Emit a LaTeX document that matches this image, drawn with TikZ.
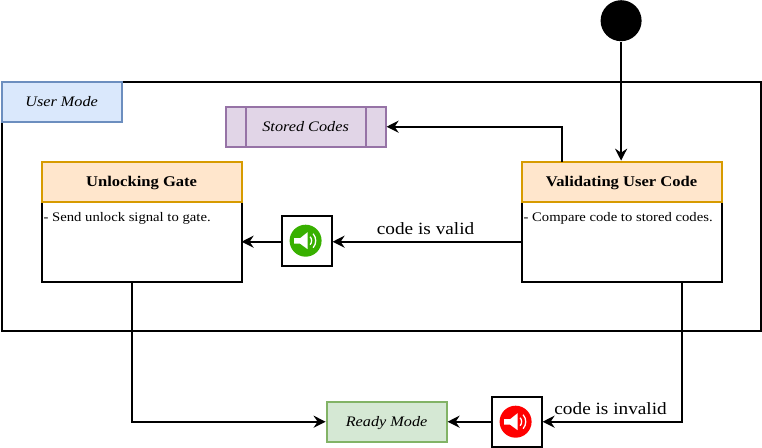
\documentclass[tikz,border=0pt]{standalone}
\usepackage{fontspec}
\setmainfont[FakeStretch=1.12]{Liberation Serif}
\usetikzlibrary{arrows.meta}
\definecolor{modeblue}{HTML}{DAE8FC}
\definecolor{modebluedark}{HTML}{6C8EBF}
\definecolor{storepurple}{HTML}{E1D5E7}
\definecolor{storepurpledark}{HTML}{9673A6}
\definecolor{headorange}{HTML}{FFE6CC}
\definecolor{headorangedark}{HTML}{D79B00}
\definecolor{readygreen}{HTML}{D5E8D4}
\definecolor{readygreendark}{HTML}{82B366}
\definecolor{okgreen}{HTML}{38B000}
\begin{document}
\begin{tikzpicture}[x=1pt, y=-1pt, line width=2pt, >={Stealth[length=12pt,width=12pt,inset=4pt]}]
\tikzstyle{every node}=[inner sep=0pt, font=\fontsize{13.1}{15}\selectfont];
\tikzstyle{head}=[draw=headorangedark, fill=headorange, minimum width=200pt, minimum height=40pt, text height=10pt, text depth=0pt, font=\fontsize{14.8}{17}\selectfont\bfseries];
\tikzstyle{body}=[draw=black, minimum width=200pt, minimum height=80pt];
\tikzstyle{mode}=[minimum width=120pt, minimum height=40pt, text height=9.5pt, text depth=0pt, font=\fontsize{14.5}{17}\selectfont\itshape];
\tikzstyle{beep}=[draw=black, minimum width=50pt, minimum height=50pt];
\tikzstyle{lbl}=[font=\fontsize{17.2}{20}\selectfont];
\useasboundingbox (0.4,0.3) rectangle (762.4,447.3);
\draw (2,82) rectangle (761,331);
\node[mode, draw=modebluedark, fill=modeblue] (user) at (62,102) {User Mode};
\node[mode, draw=storepurpledark, fill=storepurple, minimum width=160pt] (stored) at (306,127) {Stored Codes};
\draw[storepurpledark] (246,107) -- (246,147) (366,107) -- (366,147);
\node[mode, draw=readygreendark, fill=readygreen] (ready) at (387,422) {Ready Mode};
\node[circle, fill=black, minimum size=41pt] (start) at (621.5,21) {};
\node[body] (gatebody) at (142,242) {};
\node[body] (validbody) at (622,242) {};
\node[head] (gate) at (142,182) {Unlocking Gate};
\node[head] (valid) at (622,182) {Validating User Code};
\node[anchor=north west] (gatetext) at (43,211.5) {- Send unlock signal to gate.};
\node[anchor=north west] (validtext) at (523,211.5) {- Compare code to stored codes.};
\foreach \n/\c/\x/\y in {okbeep/okgreen/307/241, badbeep/red/517/422}
{
\node[beep] (\n) at (\x,\y) {};
\fill[\c] (\x-1,\y) circle (16);
\fill[white] (\x-12.5,\y-2.5) -- (\x-6.5,\y-2.5) -- (\x+1,\y-8.5) -- (\x+1,\y+8.5) -- (\x-6.5,\y+3) -- (\x-12.5,\y+3) -- cycle;
\draw[white, line width=1.3pt] (\x+3.5,\y-4) .. controls (\x+5.5,\y-2) and (\x+5.5,\y+2) .. (\x+3.5,\y+4);
\draw[white, line width=1.3pt] (\x+6.5,\y-7) .. controls (\x+10,\y-3) and (\x+10,\y+3) .. (\x+6.5,\y+7);
}
\coordinate (validup) at (562,162);
\coordinate (validleft) at (522,242);
\coordinate (validdown) at (682,282);
\coordinate (gatedown) at (132,282);
\coordinate (gateright) at (242,242);
\draw[->] (start) -- (start |- valid.north);
\draw[->] (validup) |- (stored);
\draw[->] (validleft) -- (okbeep.east |- validleft);
\draw[->] (okbeep.west |- gateright) -- (gateright);
\draw[->] (gatedown) |- (ready);
\draw[->] (validdown) |- (badbeep);
\draw[->] (badbeep) -- (ready);
\node[lbl] (validlbl) at (426,229) {code is valid};
\node[lbl] (invalidlbl) at (611,409) {code is invalid};
\end{tikzpicture}
\end{document}
